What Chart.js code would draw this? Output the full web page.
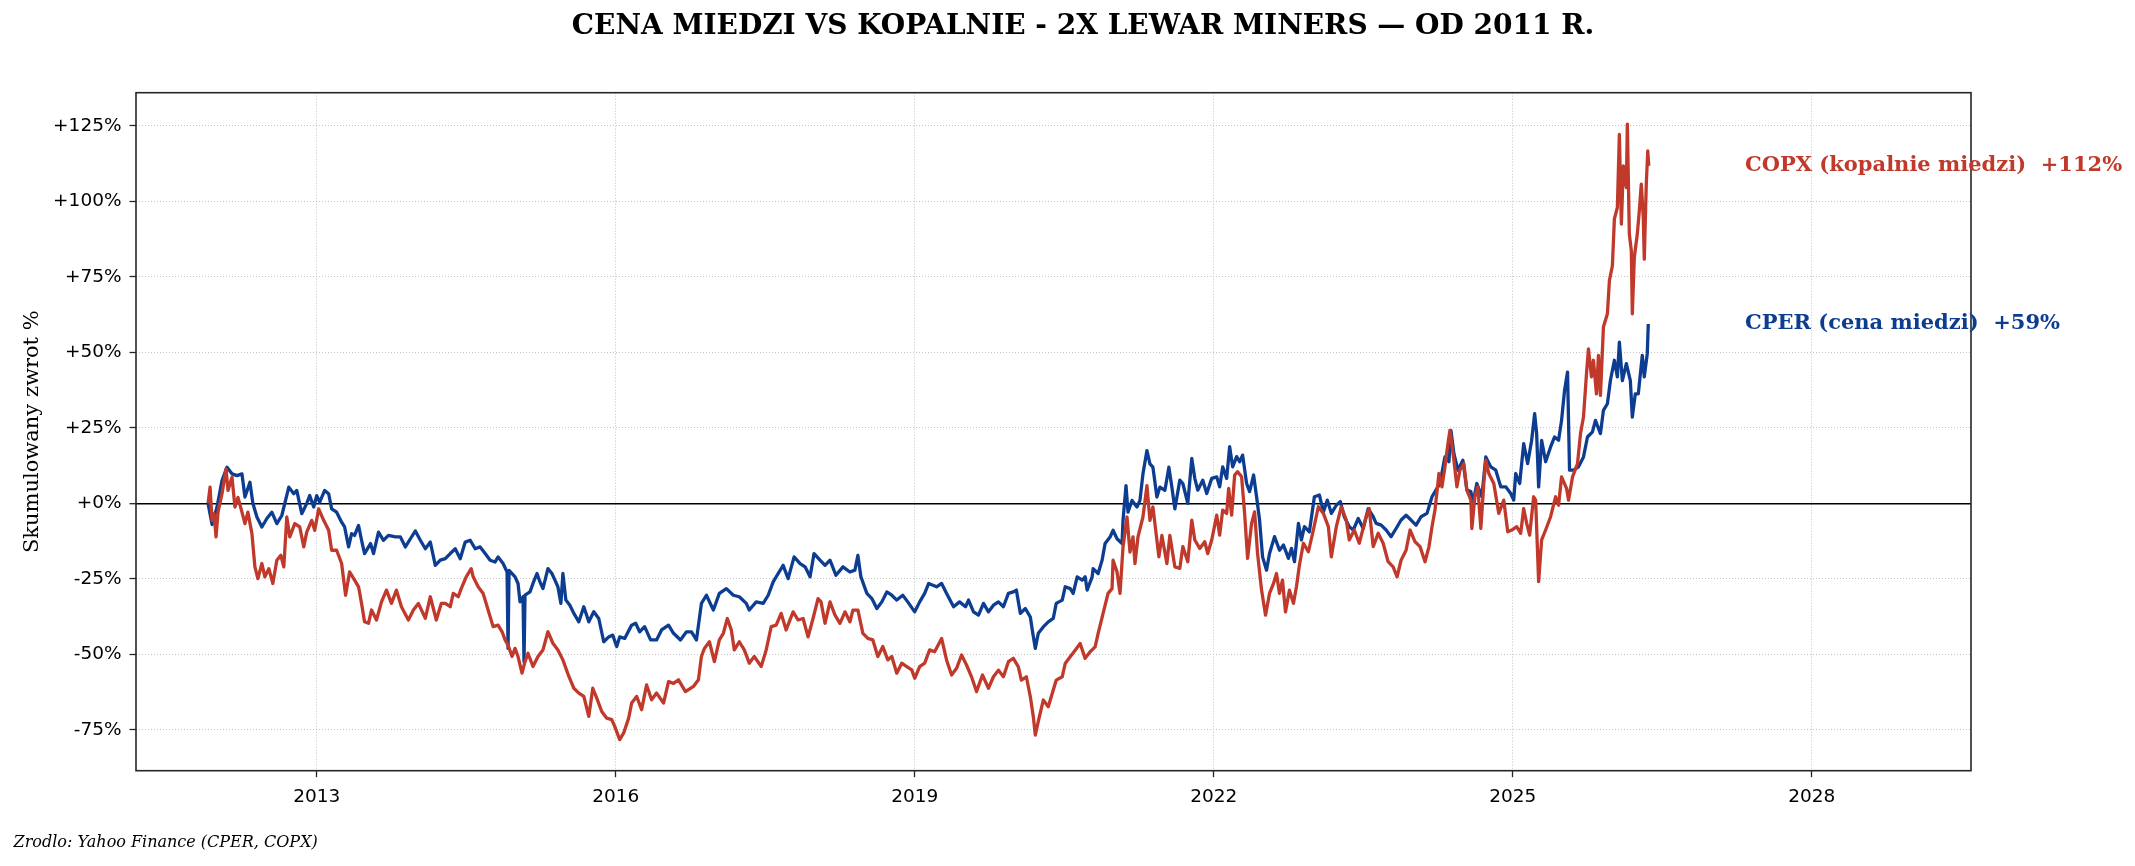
<!DOCTYPE html>
<html><head><meta charset="utf-8">
<script src="https://cdn.jsdelivr.net/npm/chart.js@4.4.1/dist/chart.umd.min.js"></script>
<style>html,body{margin:0;padding:0;background:#fff;}canvas{display:block;}</style>
</head><body>
<canvas id="c" width="2135" height="866" style="width:2135px;height:866px"></canvas>
<script>
const titleText = 'CENA MIEDZI VS KOPALNIE - 2X LEWAR MINERS \u2014 OD 2011 R.';
const sourceText = 'Zrodlo: Yahoo Finance (CPER, COPX)';
const yAxisTitle = 'Skumulowany zwrot %';
const seriesNames = ['COPX (kopalnie miedzi)', 'CPER (cena miedzi)'];
const xTickYears = [2013, 2016, 2019, 2022, 2025, 2028];
const yTickValues = [-75, -50, -25, 0, 25, 50, 75, 100, 125];

const cperYears = [2011.91,2011.95,2012.00,2012.05,2012.10,2012.15,2012.20,2012.25,2012.28,2012.33,2012.36,2012.40,2012.45,2012.50,2012.55,2012.60,2012.65,2012.68,2012.72,2012.77,2012.80,2012.85,2012.90,2012.93,2012.97,2013.00,2013.03,2013.08,2013.12,2013.15,2013.20,2013.25,2013.28,2013.32,2013.35,2013.38,2013.42,2013.45,2013.48,2013.54,2013.57,2013.62,2013.67,2013.72,2013.79,2013.84,2013.89,2013.94,2013.99,2014.04,2014.09,2014.14,2014.19,2014.24,2014.29,2014.34,2014.39,2014.44,2014.49,2014.54,2014.59,2014.64,2014.69,2014.74,2014.79,2014.82,2014.87,2014.91,2014.92,2014.93,2014.99,2015.02,2015.04,2015.07,2015.08,2015.09,2015.14,2015.17,2015.21,2015.24,2015.27,2015.32,2015.36,2015.39,2015.42,2015.45,2015.47,2015.50,2015.54,2015.58,2015.63,2015.68,2015.73,2015.78,2015.83,2015.88,2015.93,2015.97,2016.01,2016.04,2016.09,2016.16,2016.20,2016.24,2016.29,2016.35,2016.41,2016.46,2016.53,2016.58,2016.65,2016.71,2016.76,2016.81,2016.86,2016.91,2016.98,2017.04,2017.11,2017.18,2017.24,2017.31,2017.34,2017.41,2017.48,2017.53,2017.58,2017.63,2017.68,2017.73,2017.79,2017.85,2017.90,2017.95,2017.99,2018.05,2018.10,2018.15,2018.21,2018.28,2018.35,2018.40,2018.43,2018.46,2018.52,2018.57,2018.62,2018.67,2018.72,2018.77,2018.82,2018.88,2018.93,2019.00,2019.05,2019.10,2019.14,2019.22,2019.27,2019.32,2019.39,2019.45,2019.51,2019.54,2019.59,2019.64,2019.69,2019.74,2019.79,2019.84,2019.89,2019.94,2019.99,2020.02,2020.06,2020.11,2020.16,2020.18,2020.21,2020.24,2020.29,2020.34,2020.39,2020.42,2020.48,2020.51,2020.56,2020.59,2020.63,2020.68,2020.71,2020.73,2020.78,2020.79,2020.84,2020.88,2020.91,2020.96,2020.99,2021.03,2021.08,2021.09,2021.12,2021.14,2021.18,2021.23,2021.26,2021.29,2021.33,2021.36,2021.39,2021.43,2021.46,2021.51,2021.55,2021.58,2021.61,2021.66,2021.69,2021.74,2021.78,2021.81,2021.84,2021.89,2021.93,2021.98,2022.03,2022.06,2022.09,2022.13,2022.16,2022.19,2022.23,2022.26,2022.29,2022.33,2022.36,2022.40,2022.43,2022.46,2022.49,2022.53,2022.56,2022.61,2022.66,2022.70,2022.75,2022.78,2022.81,2022.85,2022.88,2022.91,2022.96,2023.01,2023.06,2023.10,2023.14,2023.18,2023.23,2023.27,2023.31,2023.36,2023.40,2023.45,2023.50,2023.55,2023.60,2023.63,2023.68,2023.73,2023.78,2023.83,2023.88,2023.93,2023.98,2024.03,2024.08,2024.14,2024.19,2024.24,2024.27,2024.32,2024.36,2024.38,2024.41,2024.45,2024.50,2024.54,2024.58,2024.60,2024.64,2024.69,2024.73,2024.78,2024.83,2024.88,2024.93,2024.98,2025.01,2025.03,2025.07,2025.11,2025.15,2025.19,2025.22,2025.24,2025.26,2025.29,2025.33,2025.38,2025.42,2025.46,2025.49,2025.52,2025.55,2025.57,2025.61,2025.66,2025.71,2025.75,2025.80,2025.83,2025.88,2025.91,2025.95,2025.98,2026.02,2026.05,2026.07,2026.10,2026.14,2026.18,2026.20,2026.23,2026.26,2026.30,2026.32,2026.35,2026.36];
const cperValues = [0,-7,-1.2,7.6,12,9.8,9.2,9.8,2.1,7,0,-4.5,-7.8,-5,-2.9,-6.7,-4,0,5.4,3.2,4.3,-3.4,0,2.6,-1.2,2.6,0.4,4.3,3.2,-1.8,-2.9,-6.2,-7.8,-14.4,-10,-10.6,-7.3,-12.2,-16.6,-13.3,-16.6,-9.5,-12.2,-10.6,-11.1,-11.1,-14.4,-11.7,-9.1,-12.2,-15,-12.8,-20.5,-18.8,-18.3,-16.6,-15,-18.3,-12.8,-12.2,-15,-14.4,-16.6,-18.8,-19.4,-17.7,-19.9,-22.7,-48,-22.2,-24.3,-26.5,-32.6,-30.9,-52.4,-30.4,-29.3,-26.5,-23.2,-26,-28.2,-21.6,-23.2,-25.4,-27.6,-33.1,-23.2,-32,-33.7,-36.4,-39.2,-34.2,-39.2,-35.9,-38.1,-45.8,-44.2,-43.6,-47.4,-44.2,-44.7,-40.3,-39.7,-42.5,-40.8,-45.2,-45.2,-41.9,-40.3,-43,-45.2,-42.5,-42.5,-45.2,-33.1,-30.4,-35.3,-29.8,-28.2,-30.4,-30.9,-33.1,-35.3,-32.6,-33.1,-30.4,-26,-23.2,-20.5,-24.9,-17.7,-19.9,-21,-24.3,-16.6,-18.8,-20.5,-18.8,-23.8,-21,-22.7,-22.1,-17.2,-24.3,-29.8,-31.5,-34.8,-32.6,-29.3,-30.4,-32,-30.4,-32.6,-35.9,-32.6,-29.8,-26.5,-27.6,-26.5,-29.8,-34.2,-32.6,-34.2,-32,-35.9,-37,-33.1,-35.9,-33.7,-32.6,-34.2,-29.8,-29.3,-28.7,-36.4,-34.8,-37.6,-42,-48,-43,-40.9,-39.2,-38.1,-33.1,-32,-27.6,-28.2,-29.8,-24.3,-25.4,-24.3,-28.7,-24.3,-21.6,-23.2,-18.8,-13.3,-11.1,-8.9,-11.7,-13.3,-5.6,5.9,-2.9,1,-1.2,1,9.8,17.5,13.1,12,2.1,5.4,4.3,12,5.4,-1.8,7.7,6.6,0,14.9,8.3,4.4,7.7,3.3,8.3,8.8,5.5,12.1,8.3,18.8,12.1,15.5,13.8,16,6.6,3.9,9.4,2.2,-5.5,-17.7,-22.1,-16.6,-11,-15.5,-13.8,-18.2,-14.9,-19.3,-6.6,-12.1,-7.7,-9.4,2.2,2.8,-2.8,1.1,-3.3,-0.6,0.6,-4.4,-7.7,-8.8,-5,-8.3,-1.7,-4.4,-6.6,-7.2,-8.8,-11,-8.3,-5.5,-3.9,-5.5,-7.2,-4.4,-3.3,2.2,5,6.6,15.4,13.8,24.2,16.5,11,14.3,4.4,3.9,0,6.6,2.2,15.4,12.1,11,5.5,5.5,3.3,1.1,9.9,6.6,19.8,13.2,20.9,29.7,23.1,5.5,20.9,13.8,18.7,22,20.9,27.5,37.4,43.5,11,11,12.1,15.4,22,23.7,27.5,23.1,30.8,33,40.7,47.4,41.9,53.4,40.7,46.3,40.7,28.6,36.3,36.3,49,41.9,49.6,59.4];

const copxYears = [2011.91,2011.93,2011.95,2011.97,2011.99,2012.01,2012.05,2012.09,2012.11,2012.15,2012.18,2012.21,2012.25,2012.28,2012.31,2012.35,2012.38,2012.41,2012.45,2012.48,2012.52,2012.56,2012.60,2012.64,2012.67,2012.70,2012.73,2012.78,2012.83,2012.87,2012.90,2012.95,2012.98,2013.02,2013.07,2013.12,2013.15,2013.20,2013.25,2013.29,2013.33,2013.38,2013.42,2013.45,2013.48,2013.52,2013.55,2013.60,2013.65,2013.70,2013.75,2013.80,2013.85,2013.92,2013.97,2014.02,2014.09,2014.14,2014.20,2014.25,2014.29,2014.34,2014.37,2014.42,2014.45,2014.50,2014.55,2014.57,2014.62,2014.67,2014.72,2014.77,2014.82,2014.86,2014.89,2014.92,2014.96,2014.99,2015.02,2015.06,2015.09,2015.12,2015.17,2015.22,2015.27,2015.32,2015.37,2015.42,2015.47,2015.53,2015.58,2015.63,2015.68,2015.73,2015.77,2015.81,2015.86,2015.91,2015.96,2015.99,2016.04,2016.08,2016.13,2016.16,2016.21,2016.26,2016.31,2016.36,2016.41,2016.48,2016.53,2016.58,2016.63,2016.70,2016.78,2016.83,2016.86,2016.89,2016.94,2016.99,2017.04,2017.08,2017.12,2017.16,2017.19,2017.24,2017.29,2017.34,2017.39,2017.46,2017.51,2017.56,2017.61,2017.66,2017.71,2017.78,2017.83,2017.88,2017.93,2017.98,2018.03,2018.06,2018.10,2018.15,2018.20,2018.25,2018.30,2018.35,2018.38,2018.43,2018.48,2018.53,2018.58,2018.63,2018.68,2018.73,2018.77,2018.82,2018.87,2018.92,2018.97,2019.00,2019.05,2019.10,2019.15,2019.20,2019.27,2019.32,2019.37,2019.42,2019.47,2019.52,2019.57,2019.62,2019.68,2019.74,2019.79,2019.84,2019.89,2019.94,2019.99,2020.04,2020.07,2020.12,2020.16,2020.19,2020.21,2020.24,2020.29,2020.34,2020.37,2020.42,2020.48,2020.51,2020.56,2020.61,2020.66,2020.71,2020.76,2020.81,2020.84,2020.89,2020.94,2020.98,2020.99,2021.03,2021.06,2021.09,2021.13,2021.16,2021.19,2021.21,2021.24,2021.29,2021.33,2021.36,2021.39,2021.41,2021.45,2021.48,2021.53,2021.56,2021.61,2021.66,2021.69,2021.74,2021.78,2021.81,2021.86,2021.91,2021.94,2021.98,2022.03,2022.06,2022.09,2022.13,2022.15,2022.18,2022.21,2022.24,2022.28,2022.31,2022.34,2022.38,2022.41,2022.44,2022.48,2022.52,2022.56,2022.60,2022.63,2022.66,2022.69,2022.72,2022.76,2022.80,2022.83,2022.86,2022.90,2022.95,2023.00,2023.05,2023.10,2023.15,2023.18,2023.23,2023.28,2023.33,2023.36,2023.41,2023.46,2023.52,2023.56,2023.60,2023.65,2023.70,2023.75,2023.80,2023.84,2023.88,2023.93,2023.97,2024.02,2024.07,2024.12,2024.16,2024.19,2024.22,2024.26,2024.29,2024.32,2024.35,2024.37,2024.41,2024.44,2024.47,2024.51,2024.54,2024.58,2024.59,2024.62,2024.65,2024.68,2024.71,2024.73,2024.76,2024.81,2024.86,2024.91,2024.95,2024.99,2025.04,2025.08,2025.11,2025.14,2025.17,2025.21,2025.23,2025.26,2025.29,2025.33,2025.38,2025.43,2025.46,2025.49,2025.54,2025.56,2025.60,2025.65,2025.68,2025.71,2025.74,2025.76,2025.79,2025.81,2025.84,2025.86,2025.88,2025.91,2025.95,2025.97,2026.00,2026.02,2026.05,2026.07,2026.09,2026.11,2026.14,2026.15,2026.17,2026.19,2026.20,2026.22,2026.25,2026.27,2026.29,2026.31,2026.32,2026.34,2026.355,2026.365];
const copxValues = [0,5.4,-5.6,-3.4,-11.1,-2.9,3.2,11.4,4.3,8.7,-1.2,2,-2.9,-6.7,-2.9,-10,-21,-24.9,-19.9,-24.3,-21.6,-26.5,-18.8,-17.2,-21,-4.5,-11.1,-6.7,-7.8,-14.4,-9.5,-5.6,-8.9,-1.8,-5.6,-8.9,-15.5,-15.5,-19.9,-30.4,-22.7,-25.4,-27.6,-33.1,-39.2,-39.7,-35.3,-38.6,-32.6,-28.7,-33.1,-28.7,-34.2,-38.6,-35.3,-33.1,-38,-30.9,-38.6,-33.1,-33.1,-34.2,-29.8,-30.9,-28.2,-24.3,-21.6,-24.3,-27.6,-29.8,-35.3,-40.8,-40.3,-42.5,-45.2,-46.9,-50.7,-48,-50.7,-56.2,-52.4,-49.6,-54,-50.7,-48.5,-42.5,-46.3,-48.5,-51.8,-57.3,-61.2,-62.8,-63.9,-70.5,-61.2,-64.5,-68.9,-71.1,-71.6,-73.8,-78.2,-76,-71.1,-66.1,-63.9,-68.3,-60.1,-65,-62.8,-66.1,-59,-59.6,-58.4,-62.3,-60.6,-58.4,-50.7,-48,-45.8,-52.4,-45.2,-43,-38.1,-41.9,-48.5,-45.8,-48.5,-52.9,-50.7,-54,-48.5,-40.8,-40.3,-36.4,-41.9,-35.9,-38.6,-38.1,-44.2,-38.1,-31.5,-32.6,-39.7,-32.6,-37,-39.7,-35.9,-39.2,-35.3,-35.3,-43,-44.7,-45.2,-50.7,-47.4,-51.8,-50.7,-56.2,-52.9,-54,-55.1,-57.9,-54,-52.9,-48.5,-49.1,-44.7,-51.9,-56.8,-54.6,-50.2,-53.5,-57.4,-62.3,-56.8,-61.2,-57.4,-55.2,-57.4,-52.4,-51.3,-54.1,-58.5,-57.4,-64,-70.6,-76.7,-72.2,-65.1,-67.3,-64,-58.5,-57.4,-53,-50.8,-48.6,-46.4,-51.3,-49.1,-47.5,-43.1,-36.4,-29.8,-28.2,-18.8,-22.7,-29.8,-14.4,-4.5,-16.1,-11.1,-19.9,-11.1,-4.5,5.9,-5.6,-1.2,-6.7,-17.7,-10.6,-19.9,-10.6,-21,-21.5,-14.3,-19.3,-5.5,-12.1,-14.9,-12.7,-16.6,-12.1,-3.9,-10.5,-2.2,-3.3,5,-3.9,9.4,10.5,8.8,-3.3,-18.2,-6.6,-2.8,-16.6,-28.7,-37,-29.8,-26.5,-23.2,-29.8,-25.4,-35.9,-28.7,-33.1,-27.6,-20.4,-13.2,-16,-8.8,-1.1,-3.3,-7.7,-17.7,-7.7,-1.1,-5.5,-12.1,-8.8,-13.2,-5.5,-1.7,-14.3,-9.9,-13.2,-19.3,-21,-24.3,-18.8,-15.5,-8.8,-12.7,-14.3,-19.3,-14.3,-7.7,-2.2,9.9,5.5,12.1,19.8,24.2,14.3,5.5,11,13.2,4.4,1.1,-8.3,2.2,5.5,-8.3,6.6,14.3,9.9,6.6,-3.3,1.1,-9.4,-8.8,-7.7,-9.9,-1.7,-6.6,-10.5,2.2,1.1,-25.9,-12.1,-8.8,-4.4,2.2,-0.6,8.8,5,1.1,8.8,13.2,23.1,28.6,42.9,51.2,41.9,47.4,36.3,49,35.8,58.4,62.8,73.8,78.7,94.2,98,122.2,92.5,111.8,104.6,125.6,89.2,83.7,62.8,81.5,89.2,96.9,105.7,94.7,80.9,105.7,116.7,111.8];

const copxColor = '#c0392b';
const cperColor = '#0d3d91';
const labelYear = 2027.33;

function pairs(xs, ys) { return xs.map((x, i) => ({x: x, y: ys[i]})); }

const frame = {
  id: 'frame',
  afterDatasetsDraw(chart) {
    const a = chart.chartArea, ctx = chart.ctx;
    ctx.save();
    ctx.strokeStyle = '#262626';
    ctx.lineWidth = 1.6;
    ctx.strokeRect(a.left, a.top, a.right - a.left, a.bottom - a.top);
    ctx.restore();
  }
};

const endLabels = {
  id: 'endLabels',
  afterDraw(chart) {
    const ctx = chart.ctx, xs = chart.scales.x, ys = chart.scales.y;
    ctx.save();
    ctx.font = 'bold 21px "DejaVu Serif"';
    ctx.textAlign = 'left';
    ctx.textBaseline = 'middle';
    chart.data.datasets.forEach(ds => {
      const last = ds.data[ds.data.length - 1];
      const txt = ds.label + '  ' + (last.y >= 0 ? '+' : '') + Math.round(last.y) + '%';
      ctx.fillStyle = ds.borderColor;
      ctx.fillText(txt, xs.getPixelForValue(labelYear), ys.getPixelForValue(last.y));
    });
    ctx.restore();
  }
};

Chart.defaults.font.family = '"DejaVu Sans"';
Chart.defaults.color = '#000';

new Chart(document.getElementById('c'), {
  type: 'line',
  data: {
    datasets: [
      {label: seriesNames[0], data: pairs(copxYears, copxValues), borderColor: copxColor, backgroundColor: copxColor, borderWidth: 3.3, pointRadius: 0, tension: 0, fill: false, borderJoinStyle: 'round'},
      {label: seriesNames[1], data: pairs(cperYears, cperValues), borderColor: cperColor, backgroundColor: cperColor, borderWidth: 3.3, pointRadius: 0, tension: 0, fill: false, borderJoinStyle: 'round'}
    ]
  },
  options: {
    responsive: false,
    devicePixelRatio: 1,
    animation: false,
    events: [],
    layout: {padding: {left: 13.6, right: -17.4, top: 0, bottom: 0}},
    plugins: {
      legend: {display: false},
      tooltip: {enabled: false},
      title: {display: true, text: titleText, color: '#000', font: {family: '"DejaVu Serif"', size: 28, weight: 'bold', lineHeight: 1.2}, padding: {top: 10, bottom: 49.1}},
      subtitle: {display: true, text: sourceText, position: 'bottom', align: 'start', color: '#000', font: {family: '"DejaVu Serif"', size: 16, style: 'italic', lineHeight: 1.2}, padding: {top: 4, bottom: 14}}
    },
    scales: {
      x: {
        type: 'linear', min: 2011.187, max: 2029.598,
        afterBuildTicks: s => { s.ticks = xTickYears.map(v => ({value: v})); },
        afterFit: s => { s.height = 58.1; },
        ticks: {callback: v => String(v), font: {size: 18.5}, color: '#000', padding: 8.5, maxRotation: 0, autoSkip: false},
        grid: {color: '#c4c4c4', lineWidth: 1, drawTicks: true, tickLength: 6.5, tickColor: '#262626', tickWidth: 1.3, tickBorderDash: []},
        border: {display: false, dash: [1, 2]}
      },
      y: {
        type: 'linear', min: -88.5, max: 136,
        afterBuildTicks: s => { s.ticks = yTickValues.map(v => ({value: v})); },
        afterFit: s => { s.width = 122.4; },
        ticks: {callback: v => (v >= 0 ? '+' : '') + v + '%', font: {size: 18.5}, color: '#000', padding: 8},
        grid: {
          color: c => (c.tick && c.tick.value === 0) ? '#000000' : '#c4c4c4',
          lineWidth: c => (c.tick && c.tick.value === 0) ? 1.4 : 1,
          drawTicks: true, tickLength: 6.5, tickColor: '#262626', tickWidth: 1.3, tickBorderDash: []
        },
        border: {display: false, dash: c => (c.tick && c.tick.value === 0) ? [] : [1, 2]},
        title: {display: true, text: yAxisTitle, color: '#000', font: {family: '"DejaVu Serif"', size: 21, lineHeight: 1.2}, padding: {top: 6.8, bottom: 0}}
      },
      yRight: {
        type: 'linear', position: 'right', display: true,
        afterFit: s => { s.width = 181.4; },
        ticks: {display: false},
        grid: {display: false, drawTicks: false},
        border: {display: false}
      }
    }
  },
  plugins: [frame, endLabels]
});
</script>
</body></html>
